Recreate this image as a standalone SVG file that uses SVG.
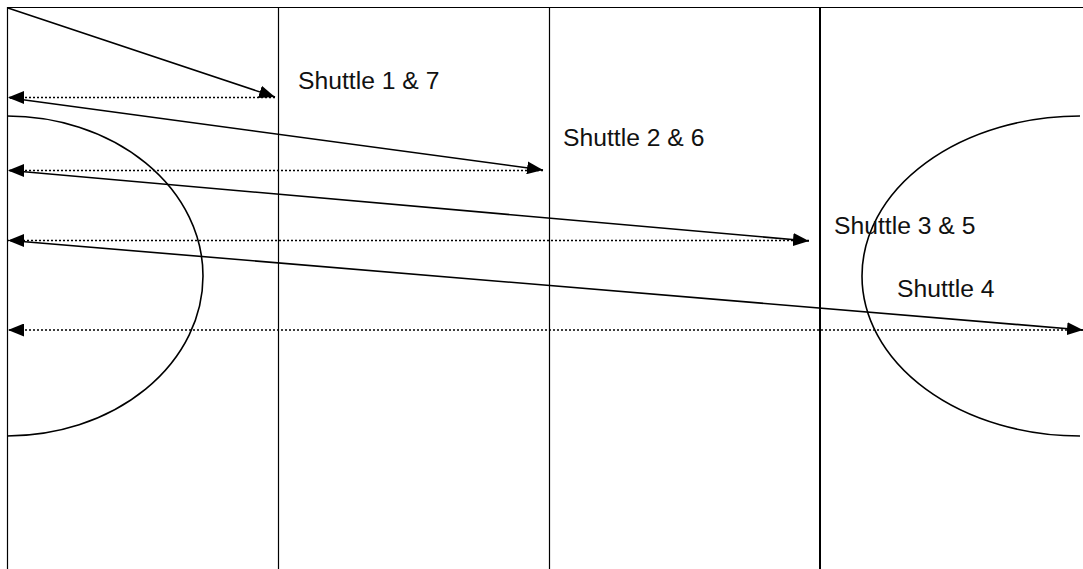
<svg xmlns="http://www.w3.org/2000/svg" width="1083" height="569" viewBox="0 0 1083 569">
<style>
.frame{stroke:#000;stroke-width:1.2;fill:none}
.thick{stroke:#000;stroke-width:2;fill:none}
.solid{stroke:#000;stroke-width:1.6;fill:none}
.dot{stroke:#000;stroke-width:1.6;fill:none;stroke-dasharray:2,2}
.lbl{font-family:"Liberation Sans",Arial,sans-serif;font-size:24.7px;fill:#111}
</style>
<defs>
<marker id="ah" markerUnits="userSpaceOnUse" markerWidth="17" markerHeight="13" refX="16" refY="6.5" orient="auto">
<path d="M0,0 L16,6.5 L0,13 Z" fill="#000"/>
</marker>
</defs>
<rect width="1083" height="569" fill="#fff"/>
<g id="grid">
<line class="frame" x1="7" y1="7.5" x2="1083" y2="7.5"/>
<line class="frame" x1="7.5" y1="7" x2="7.5" y2="569"/>
<line class="frame" x1="278.5" y1="7" x2="278.5" y2="569"/>
<line class="frame" x1="549.5" y1="7" x2="549.5" y2="569"/>
<line class="thick" x1="820" y1="7" x2="820" y2="569"/>
</g>
<g id="left-ellipse"><path class="solid" d="M7,116 A196,160 0 0 1 7,436"/></g>
<g id="right-ellipse"><path class="solid" d="M1080,116 A218,160 0 0 0 1080,436"/></g>
<g id="connectors">
<line class="solid" x1="8" y1="8" x2="275" y2="97" marker-end="url(#ah)"/>
<line class="dot" x1="275" y1="97.5" x2="8" y2="97.5" marker-end="url(#ah)"/>
<line class="solid" x1="10" y1="98" x2="543" y2="170" marker-end="url(#ah)"/>
<line class="dot" x1="543" y1="170.5" x2="8" y2="170.5" marker-end="url(#ah)"/>
<line class="solid" x1="10" y1="170.5" x2="809" y2="241" marker-end="url(#ah)"/>
<line class="dot" x1="809" y1="240.5" x2="8" y2="240.5" marker-end="url(#ah)"/>
<line class="solid" x1="10" y1="240.5" x2="1083" y2="330" marker-end="url(#ah)"/>
<line class="dot" x1="1083" y1="330" x2="8" y2="330" marker-end="url(#ah)"/>
</g>
<g id="labels">
<text class="lbl" x="298" y="88.5">Shuttle 1 &amp; 7</text>
<text class="lbl" x="563" y="145.5">Shuttle 2 &amp; 6</text>
<text class="lbl" x="834" y="234">Shuttle 3 &amp; 5</text>
<text class="lbl" x="897" y="297">Shuttle 4</text>
</g>
</svg>
